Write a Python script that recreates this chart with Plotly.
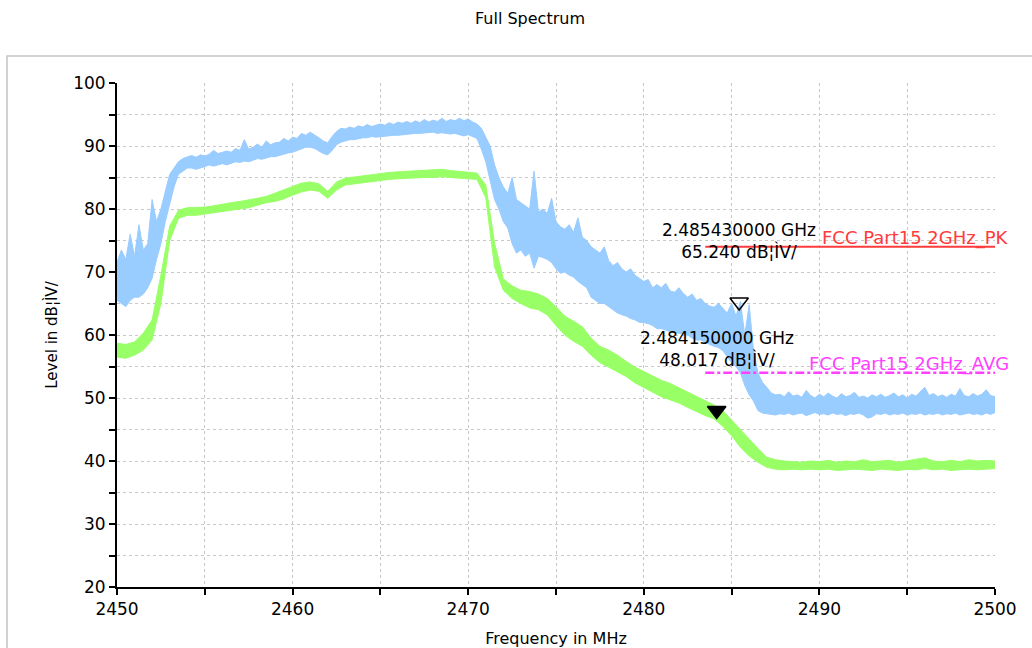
import plotly.graph_objects as go

# ---------------- data ----------------
# Peak trace (light blue): lower / upper edge of the noise band, 0.25 MHz grid from 2450 MHz
pk_start, pk_step = 2450.0, 0.25
pk_low = [
    65.5, 65.0, 64.5, 65.5, 66.0, 66.0, 66.5, 67.5, 69.0, 72.0,
    74.5, 78.0, 81.0, 83.5, 85.5, 86.0, 86.5, 86.5, 86.3, 86.5,
    86.8, 87.0, 86.8, 87.0, 87.2, 87.0, 87.3, 87.5, 87.4, 87.6,
    87.5, 87.8, 88.0, 87.9, 88.1, 88.3, 88.3, 88.5, 88.8, 88.9,
    89.0, 89.3, 89.5, 89.8, 89.8, 89.6, 89.2, 88.8, 88.6, 89.3,
    90.2, 90.6, 90.8, 91.0, 91.0, 91.2, 91.3, 91.3, 91.5, 91.4,
    91.5, 91.6, 91.6, 91.7, 91.7, 91.8, 91.8, 91.9, 92.0, 92.0,
    92.1, 92.2, 92.2, 92.0, 92.1, 92.0, 91.9, 92.0, 91.8, 91.6,
    91.8, 91.5, 91.2, 89.5, 87.5, 84.5, 81.5, 80.0, 78.0, 77.0,
    74.5, 73.0, 73.5, 72.5, 73.0, 70.6, 72.5, 72.3, 72.0, 71.5,
    70.5, 69.8, 70.0, 69.5, 69.2, 68.5, 68.0, 67.5, 66.0, 65.5,
    65.0, 65.0, 64.5, 64.0, 63.5, 63.2, 63.0, 62.6, 62.4, 62.0,
    62.0, 61.8, 61.5, 61.0, 61.0, 60.8, 60.5, 60.4, 60.3, 60.2,
    60.0, 59.5, 59.2, 59.2, 58.8, 58.5, 58.2, 58.0, 57.5, 56.5,
    55.6, 55.0, 54.0, 52.0, 50.5, 49.5, 48.0, 47.6, 47.5, 47.3,
    47.3, 47.5, 47.4, 47.6, 47.3, 47.5, 47.6, 47.2, 47.5, 47.7,
    47.4, 47.5, 47.3, 47.6, 47.4, 47.5, 47.2, 47.5, 47.4, 47.6,
    47.3, 46.8, 47.0, 47.5, 47.4, 47.6, 47.3, 47.5, 47.4, 47.6,
    47.3, 47.5, 47.4, 47.6, 47.3, 47.5, 47.4, 47.6, 47.3, 47.5,
    47.4, 47.6, 47.3, 47.5, 47.6, 47.4, 47.5, 47.3, 47.6, 47.4,
    47.7,
]
pk_high = [
    71.5, 73.5, 72.0, 76.0, 72.5, 77.5, 73.5, 74.5, 81.5, 78.0,
    80.0, 83.0, 85.5, 86.5, 87.5, 88.0, 88.3, 88.5, 88.2, 88.6,
    88.4, 88.7, 89.3, 88.8, 89.0, 89.2, 89.0, 89.6, 89.3, 91.0,
    89.5, 89.8, 90.3, 89.8, 90.8, 90.2, 90.5, 90.6, 91.2, 90.8,
    91.4, 91.2, 92.0, 91.7, 92.2, 91.8, 91.3, 90.8, 90.5, 91.5,
    92.3, 92.8, 92.7, 93.0, 92.8, 93.2, 93.0, 93.4, 93.1, 93.3,
    93.5, 93.3, 93.7, 93.4, 93.8, 93.6, 93.9, 93.6, 94.0, 93.7,
    94.2, 93.8, 94.1, 93.9, 94.4, 93.9, 94.2, 94.0, 94.4, 94.0,
    94.3, 93.8, 93.5, 92.8, 91.5, 90.0, 87.0, 85.0, 83.5, 82.5,
    85.0, 81.5, 81.0, 80.5, 80.0, 86.0, 79.5, 80.0, 79.3, 81.7,
    78.0, 77.2, 76.8, 77.5, 76.3, 78.6, 75.5, 75.0, 74.0, 73.5,
    73.0, 74.0, 71.8, 71.0, 71.5, 70.5, 70.0, 70.5, 69.5, 69.0,
    68.5, 68.8, 67.5, 68.0, 67.5, 68.2, 67.0, 66.8, 67.5, 66.6,
    66.0, 66.5, 65.5, 65.8, 65.0, 64.6, 64.4, 65.0, 64.2, 63.5,
    65.0, 63.0, 65.3, 60.0, 64.8, 57.5, 54.0, 52.5, 51.7, 50.8,
    50.5, 50.6, 50.2, 51.0, 50.3, 50.5, 50.1, 51.2, 50.4, 50.0,
    50.6, 50.2, 50.8, 50.3, 50.0, 50.7, 50.2, 50.4, 50.9, 50.1,
    50.3, 50.0, 50.5, 50.2, 50.6, 50.1, 50.4, 50.8, 50.2, 50.5,
    50.0, 50.6, 50.3, 51.0, 51.7, 50.4, 50.7, 50.2, 50.5, 50.1,
    50.6, 50.3, 51.5, 50.4, 50.2, 50.7, 50.3, 50.6, 51.3, 50.4,
    50.2,
]

# Average trace (light green): lower / upper edge, 0.5 MHz grid from 2450 MHz
av_start, av_step = 2450.0, 0.5
av_low = [
    56.5, 56.3, 56.8, 57.6, 59.2, 65.0, 75.0, 78.5, 79.0, 79.0,
    79.2, 79.4, 79.6, 79.8, 80.0, 80.2, 80.6, 81.0, 81.2, 81.6,
    82.2, 82.7, 83.0, 82.8, 81.7, 83.0, 83.8, 84.0, 84.2, 84.4,
    84.5, 84.7, 84.8, 84.9, 85.0, 85.0, 85.0, 85.1, 85.0, 84.9,
    84.9, 84.7, 81.8, 70.8, 67.1, 65.8, 65.0, 64.3, 64.0, 63.2,
    61.5, 60.0, 59.0, 58.2, 56.8, 55.6, 54.9, 54.2, 53.4, 52.4,
    51.7, 51.0, 50.2, 49.7, 49.2, 48.5, 47.8, 47.2, 46.7, 45.5,
    44.0, 42.2, 40.8, 39.8, 39.0, 38.7, 38.6, 38.7, 38.6, 38.7,
    38.6, 38.7, 38.5, 38.6, 38.7, 38.6, 38.5, 38.7, 38.6, 38.5,
    38.7, 38.6, 38.8, 38.6, 38.7, 38.5, 38.6, 38.7, 38.6, 38.7,
    38.8,
]
av_high = [
    58.7, 58.5, 58.9, 60.3, 62.4, 69.5, 77.3, 79.8, 80.2, 80.2,
    80.3, 80.5, 80.8, 81.0, 81.2, 81.4, 81.7, 82.0, 82.5, 83.0,
    83.6, 84.1, 84.3, 84.0, 82.8, 84.3, 84.9, 85.1, 85.3, 85.5,
    85.6, 85.8, 85.9, 86.0, 86.1, 86.2, 86.2, 86.3, 86.1, 86.0,
    85.9, 85.7, 83.8, 74.6, 68.9, 67.8, 67.1, 66.9, 66.5, 65.8,
    64.5, 63.0, 62.2, 61.3, 59.5, 58.2, 57.6, 56.8, 55.8, 54.9,
    54.2, 53.5, 52.8, 52.3, 51.6, 50.9, 50.3, 49.6, 48.9, 48.0,
    46.5, 44.9, 43.5, 42.0, 40.6, 40.2, 40.0, 39.9, 39.8, 40.0,
    39.9, 40.1, 39.8, 40.0, 39.9, 40.2, 39.9, 40.0, 40.1, 39.8,
    40.0, 40.2, 40.5, 40.0, 39.9, 40.1, 39.9, 40.2, 40.0, 40.1,
    40.0,
]

# Limit lines
limit_freq = [2483.5, 2500.0]
limit_pk = [74.0, 74.0]
limit_avg = [54.0, 54.0]
limit_pk_name = "FCC Part15 2GHz_PK"
limit_avg_name = "FCC Part15 2GHz_AVG"

# Markers
marker_freq = [2485.43, 2484.15]
marker_level = [65.240, 48.017]
marker_symbol = ["triangle-down-open", "triangle-down"]

# Axes
x_tick_vals = [2450, 2455, 2460, 2465, 2470, 2475, 2480, 2485, 2490, 2495, 2500]
x_tick_text = ["2450", "", "2460", "", "2470", "", "2480", "", "2490", "", "2500"]
y_tick_vals = [20, 25, 30, 35, 40, 45, 50, 55, 60, 65, 70, 75, 80, 85, 90, 95, 100]
y_tick_text = ["20", "", "30", "", "40", "", "50", "", "60", "", "70", "", "80", "", "90", "", "100"]
unit = "dB\u00a6\u00ccV/"

# ---------------- figure ----------------
pk_freq = [pk_start + pk_step * i for i in range(len(pk_low))]
av_freq = [av_start + av_step * i for i in range(len(av_low))]

BLUE = "#99CCFF"
GREEN = "#99FF66"
RED = "#FF3B3B"
MAG = "#FF40FF"
FONT = "DejaVu Sans"

fig = go.Figure()

fig.add_trace(go.Scatter(x=pk_freq, y=pk_low, mode="lines",
                         line=dict(color=BLUE, width=1), hoverinfo="skip", showlegend=False))
fig.add_trace(go.Scatter(x=pk_freq, y=pk_high, mode="lines", fill="tonexty", fillcolor=BLUE,
                         line=dict(color=BLUE, width=1), showlegend=False))
fig.add_trace(go.Scatter(x=av_freq, y=av_low, mode="lines",
                         line=dict(color=GREEN, width=1), hoverinfo="skip", showlegend=False))
fig.add_trace(go.Scatter(x=av_freq, y=av_high, mode="lines", fill="tonexty", fillcolor=GREEN,
                         line=dict(color=GREEN, width=1), showlegend=False))

fig.add_trace(go.Scatter(x=limit_freq, y=limit_pk, mode="lines",
                         line=dict(color=RED, width=2), showlegend=False))
fig.add_trace(go.Scatter(x=limit_freq, y=limit_avg, mode="lines",
                         line=dict(color=MAG, width=2.5, dash="dashdot"), showlegend=False))

fig.add_trace(go.Scatter(x=marker_freq, y=marker_level, mode="markers",
                         marker=dict(symbol=marker_symbol, size=16, color="black",
                                     line=dict(color="black", width=1.5)),
                         showlegend=False))

# marker readouts
for f, lv in zip(marker_freq, marker_level):
    fig.add_annotation(x=f, y=lv, xref="x", yref="y",
                       text=f"{f/1000:.9f} GHz<br>{lv:.3f} {unit}",
                       showarrow=False, xanchor="center", yanchor="bottom", yshift=38,
                       align="center", font=dict(family=FONT, size=17, color="black"))

# limit line labels
fig.add_annotation(x=limit_freq[-1], y=limit_pk[-1], xref="x", yref="y", text=limit_pk_name,
                   showarrow=False, xanchor="right", yanchor="bottom", xshift=16, yshift=-4,
                   font=dict(family=FONT, size=18, color=RED))
fig.add_annotation(x=limit_freq[-1], y=limit_avg[-1], xref="x", yref="y", text=limit_avg_name,
                   showarrow=False, xanchor="right", yanchor="bottom", xshift=16, yshift=-4,
                   font=dict(family=FONT, size=18, color=MAG))

# outer frame
fig.add_shape(type="rect", xref="paper", yref="paper", x0=-0.1253, x1=1.08, y0=-0.3, y1=1.0536,
              line=dict(color="#C4C4C4", width=1.5), fillcolor="rgba(0,0,0,0)", layer="below")

axis_common = dict(showline=True, linecolor="black", linewidth=2, ticks="outside", ticklen=6,
                   tickwidth=2, tickcolor="black", showgrid=True, gridcolor="#C8C8C8",
                   griddash="dot", gridwidth=1.2, zeroline=False, mirror=False,
                   tickfont=dict(family=FONT, size=17, color="black"))

fig.update_layout(
    width=1032, height=648,
    margin=dict(l=117, r=37, t=83, b=61, autoexpand=False),
    paper_bgcolor="white", plot_bgcolor="white",
    title=dict(text="Full Spectrum", x=530 / 1032, xref="container", xanchor="center",
               y=1 - 18 / 648, yref="container", yanchor="middle",
               font=dict(family=FONT, size=16, color="black")),
    xaxis=dict(range=[2450, 2500], tickvals=x_tick_vals, ticktext=x_tick_text,
               title=dict(text="Frequency in MHz", standoff=15,
                          font=dict(family=FONT, size=16, color="black")),
               **axis_common),
    yaxis=dict(range=[20, 100], tickvals=y_tick_vals, ticktext=y_tick_text,
               title=dict(text="Level in " + unit, standoff=12,
                          font=dict(family=FONT, size=15, color="black")),
               **axis_common),
    xaxis2=dict(overlaying="x", matches="x", range=[2450, 2500], tickvals=x_tick_vals,
                showticklabels=False, ticks="inside", ticklen=5, tickwidth=2, tickcolor="black",
                showgrid=False, showline=False, zeroline=False, anchor="y"),
    yaxis2=dict(overlaying="y", matches="y", range=[20, 100], tickvals=y_tick_vals,
                showticklabels=False, ticks="inside", ticklen=5, tickwidth=2, tickcolor="black",
                showgrid=False, showline=False, zeroline=False, anchor="x"),
    showlegend=False,
)

fig.write_html("out.html", config={"displayModeBar": False},
               post_script="document.body.style.margin='0px';document.body.style.overflow='hidden';")
